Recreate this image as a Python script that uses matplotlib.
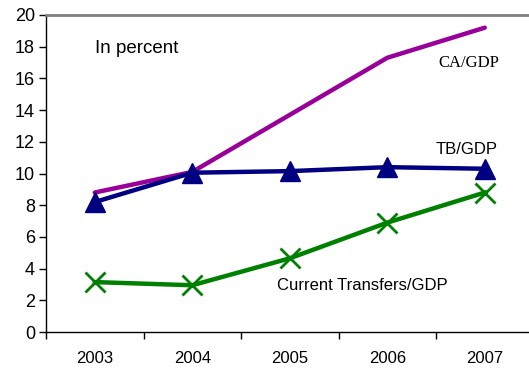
import matplotlib
matplotlib.use("Agg")
import matplotlib.pyplot as plt

years = ["2003", "2004", "2005", "2006", "2007"]
ca_gdp = [8.8, 10.1, 13.7, 17.3, 19.2]
tb_gdp = [8.2, 10.05, 10.15, 10.4, 10.3]
transfers_gdp = [3.15, 2.95, 4.65, 6.9, 8.8]

plt.rcParams["font.family"] = ["Liberation Sans", "DejaVu Sans"]

fig = plt.figure(figsize=(5.29, 3.72), dpi=100)
ax = fig.add_axes([0.087, 0.1075, 0.9215, 0.8522])

x = range(len(years))
ax.plot(x, ca_gdp, color="#990099", lw=3.2, solid_capstyle="round", zorder=2)
ax.plot(x, tb_gdp, color="#000080", lw=3.2, marker="^", ms=14, zorder=3)
ax.plot(x, transfers_gdp, color="#008000", lw=3.2, marker="x", ms=14, mew=2, zorder=3)

ax.set_xlim(-0.5, len(years) - 0.5)
ax.set_ylim(0, 20)
ax.set_yticks(range(0, 21, 2))
ax.set_xticks([i + 0.5 for i in range(-1, len(years))], minor=False)
ax.set_xticklabels([])
ax.set_xticks(list(x), minor=True)
ax.set_xticklabels(years, minor=True)
ax.tick_params(axis="x", which="minor", length=0, pad=14, labelsize=12)
ax.tick_params(axis="x", which="major", length=5, direction="out", width=1)
ax.tick_params(axis="y", length=5, direction="out", width=1, labelsize=13, pad=3)

for s in ["left", "bottom"]:
    ax.spines[s].set_color("black")
    ax.spines[s].set_linewidth(1)
ax.spines["top"].set_color("#808080")
ax.spines["top"].set_linewidth(2)
ax.spines["right"].set_visible(False)

ax.text(0.0, 17.9, "In percent", fontsize=13.5, ha="left", va="center")
ax.text(3.52, 17.0, "CA/GDP", fontsize=12, family=["Liberation Serif", "DejaVu Serif"], ha="left", va="center")
ax.text(3.5, 11.5, "TB/GDP", fontsize=12, ha="left", va="center")
ax.text(1.87, 2.95, "Current Transfers/GDP", fontsize=12, ha="left", va="center")

fig.savefig("out.png", dpi=100)
